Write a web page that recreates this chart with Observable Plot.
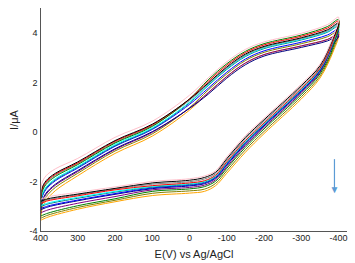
<!DOCTYPE html>
<html><head><meta charset="utf-8">
<script src="https://cdn.jsdelivr.net/npm/d3@7"></script>
<script src="https://cdn.jsdelivr.net/npm/@observablehq/plot@0.6"></script>
<style>body{margin:0;background:#fff;font-family:"Liberation Sans",Arial,sans-serif;}</style>
</head><body><div id="chart"></div>
<script>
// Potential grids (mV) for the two sweep branches
const E_up = [400, 396, 385, 360, 300, 200, 100, 0, -50, -100, -150, -200, -300, -370, -400];
const E_down = [-385, -350, -300, -200, -150, -100, -70, -40, 0, 100, 200, 300, 380, 400];

// Currents (µA) per cycle
const pink_up   = [-2.7, -2.05, -1.75, -1.47, -1.05, -0.2, 0.45, 1.5, 2.2, 2.85, 3.35, 3.65, 4.0, 4.35, 4.65];
const pink_down = [3.85, 2.75, 1.95, 0.57, -0.13, -0.99, -1.55, -1.76, -1.87, -1.98, -2.2, -2.42, -2.6, -2.7];
const black_up   = [-2.79, -2.26, -1.95, -1.65, -1.19, -0.33, 0.33, 1.34, 1.99, 2.64, 3.16, 3.47, 3.82, 4.14, 4.41];
const black_down = [3.78, 2.69, 1.89, 0.51, -0.2, -1.06, -1.61, -1.82, -1.93, -2.04, -2.26, -2.49, -2.68, -2.79];
const red_up   = [-2.87, -2.31, -2.0, -1.69, -1.23, -0.36, 0.3, 1.35, 2.06, 2.71, 3.22, 3.53, 3.88, 4.21, 4.49];
const red_down = [3.66, 2.58, 1.77, 0.38, -0.33, -1.19, -1.73, -1.95, -2.04, -2.15, -2.32, -2.56, -2.76, -2.87];
const green_up   = [-3.38, -2.42, -2.1, -1.78, -1.3, -0.43, 0.24, 1.35, 2.12, 2.77, 3.27, 3.58, 3.93, 4.27, 4.55];
const green_down = [3.42, 2.36, 1.53, 0.14, -0.6, -1.45, -1.97, -2.19, -2.28, -2.38, -2.68, -2.96, -3.26, -3.38];
const gray_up   = [-2.83, -2.37, -2.05, -1.73, -1.26, -0.4, 0.27, 1.29, 1.96, 2.6, 3.12, 3.44, 3.79, 4.1, 4.37];
const gray_down = [3.72, 2.63, 1.83, 0.45, -0.26, -1.12, -1.67, -1.88, -1.99, -2.09, -2.29, -2.52, -2.72, -2.83];
const cyan_up   = [-2.96, -2.52, -2.2, -1.87, -1.37, -0.49, 0.18, 1.22, 1.92, 2.57, 3.09, 3.41, 3.76, 4.07, 4.33];
const cyan_down = [3.63, 2.55, 1.74, 0.35, -0.36, -1.22, -1.76, -1.98, -2.07, -2.18, -2.38, -2.62, -2.85, -2.96];
const teal_up   = [-3.0, -2.58, -2.25, -1.91, -1.4, -0.53, 0.15, 1.19, 1.89, 2.54, 3.06, 3.38, 3.73, 4.04, 4.29];
const teal_down = [3.6, 2.52, 1.71, 0.32, -0.4, -1.25, -1.79, -2.01, -2.1, -2.21, -2.41, -2.66, -2.89, -3.0];
const blue_up   = [-3.08, -2.63, -2.3, -1.95, -1.44, -0.56, 0.12, 1.13, 1.78, 2.43, 2.96, 3.29, 3.64, 3.93, 4.17];
const blue_down = [3.57, 2.49, 1.68, 0.29, -0.43, -1.29, -1.82, -2.04, -2.13, -2.24, -2.47, -2.73, -2.97, -3.08];
const navy_up   = [-3.13, -2.79, -2.45, -2.09, -1.54, -0.66, 0.03, 0.97, 1.54, 2.19, 2.73, 3.08, 3.43, 3.69, 3.89];
const navy_down = [3.54, 2.47, 1.65, 0.26, -0.47, -1.32, -1.85, -2.07, -2.16, -2.27, -2.5, -2.76, -3.01, -3.13];
const purple_up   = [-3.25, -2.84, -2.5, -2.13, -1.58, -0.69, 0.0, 0.98, 1.6, 2.26, 2.8, 3.14, 3.49, 3.75, 3.97];
const purple_down = [3.48, 2.41, 1.59, 0.2, -0.53, -1.39, -1.91, -2.13, -2.22, -2.32, -2.59, -2.86, -3.13, -3.25];
const olive_up   = [-3.47, -2.94, -2.6, -2.22, -1.65, -0.75, -0.06, 1.0, 1.71, 2.36, 2.9, 3.23, 3.58, 3.86, 4.09];
const olive_down = [3.33, 2.27, 1.44, 0.04, -0.7, -1.55, -2.06, -2.29, -2.36, -2.46, -2.74, -3.03, -3.34, -3.47];
const orange_up   = [-3.55, -3.1, -2.75, -2.35, -1.75, -0.85, -0.15, 0.9, 1.6, 2.25, 2.8, 3.14, 3.49, 3.75, 3.97];
const orange_down = [3.24, 2.19, 1.35, -0.05, -0.8, -1.65, -2.15, -2.38, -2.45, -2.55, -2.8, -3.1, -3.42, -3.55];

const runNames  = ["orange", "olive", "purple", "navy", "blue", "teal", "cyan", "gray", "green", "red", "black", "pink"];
const runColors = ["#ff8c00", "#8c9a00", "#9b30c8", "#000080", "#1a1aff", "#008b8b", "#00c8f0", "#808080", "#00d000", "#ff0000", "#000000", "#ff2d96"];
const runUp   = [orange_up, olive_up, purple_up, navy_up, blue_up, teal_up, cyan_up, gray_up, green_up, red_up, black_up, pink_up];
const runDown = [orange_down, olive_down, purple_down, navy_down, blue_down, teal_down, cyan_down, gray_down, green_down, red_down, black_down, pink_down];

const xTicks = [400, 300, 200, 100, 0, -100, -200, -300, -400];
const yTicks = [-4, -2, 0, 2, 4];

// Arrow (direction of change)
const arrowE = [-389];
const arrowFrom = [-1.1];
const arrowTo = [-2.3];

const rows = [];
runNames.forEach((name, k) => {
  E_up.forEach((e, i) => rows.push({E: e, I: runUp[k][i], run: name}));
  E_down.forEach((e, i) => rows.push({E: e, I: runDown[k][i], run: name}));
});
const arrow = arrowE.map((e, i) => ({E: e, from: arrowFrom[i], to: arrowTo[i]}));

const chart = Plot.plot({
  width: 355, height: 263,
  marginLeft: 40, marginRight: 8, marginTop: 8, marginBottom: 32,
  style: {fontFamily: "Liberation Sans, Arial, sans-serif", fontSize: "9px", color: "#222", background: "#fff"},
  x: {domain: [400, -424], ticks: xTicks, tickFormat: d => String(d), tickSize: 0, tickPadding: 3,
      label: "E(V) vs Ag/AgCl", labelAnchor: "center", labelOffset: 26, labelArrow: "none"},
  y: {domain: [-4, 5], ticks: yTicks, tickFormat: d => String(d), tickSize: 0, tickPadding: 3,
      label: "I/μA", labelAnchor: "center", labelOffset: 30, labelArrow: "none"},
  color: {domain: runNames, range: runColors},
  marks: [
    Plot.line(rows, {x: "E", y: "I", z: "run", stroke: "run", strokeWidth: 1, curve: "catmull-rom"}),
    Plot.ruleX([400], {stroke: "#555"}),
    Plot.ruleY([-4], {stroke: "#555"}),
    Plot.ruleX(arrow, {x: "E", y1: "from", y2: "to", stroke: "#5b9bd5", strokeWidth: 1.2}),
    Plot.text(arrow, {x: "E", y: "to", text: () => "▼", fill: "#5b9bd5", fontSize: 10, lineAnchor: "middle"})
  ]
});
chart.querySelectorAll("g[aria-label='x-axis label'] text, g[aria-label='y-axis label'] text").forEach(t => {
  t.style.fontSize = "11px";
  const walk = n => { if (n.nodeType === 3) n.nodeValue = n.nodeValue.replace(/[←→↑↓]\s?|\s?[←→↑↓]/g, ""); else n.childNodes.forEach(walk); };
  walk(t);
});
document.getElementById("chart").appendChild(chart);
</script></body></html>
